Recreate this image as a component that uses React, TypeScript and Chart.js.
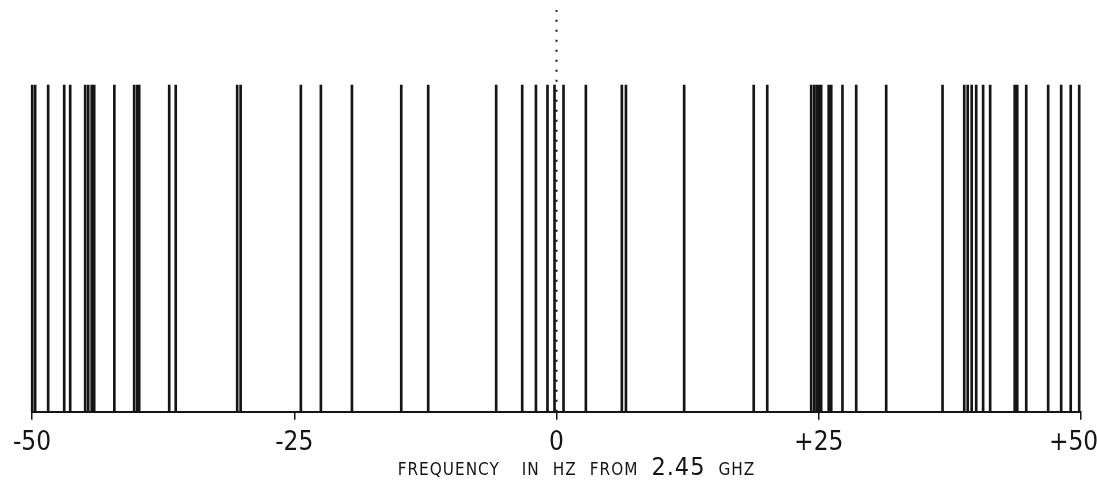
import React, { useEffect, useRef } from 'react';
import { Chart, registerables } from 'chart.js';

Chart.register(...registerables);

// Spectral line positions (Hz offset from 2.45 GHz)
const lineFrequencies = [
  -49.98, -49.7, -48.46, -46.93, -46.36, -44.93, -44.64, -44.31, -44.07, -42.15,
  -40.26, -39.97, -39.78, -36.92, -36.3, -30.44, -30.11, -24.37, -22.46, -19.5,
  -14.8, -12.23, -5.75, -3.27, -1.96, -0.86, -0.19, 0.67, 2.8, 6.23,
  6.62, 12.17, 18.8, 20.09, 24.28, 24.57, 24.8, 25.04, 25.23, 25.95,
  26.19, 27.26, 28.57, 31.43, 36.8, 38.87, 39.2, 39.58, 40.01, 40.67,
  41.34, 43.68, 43.92, 44.78, 46.87, 48.11, 49.02, 49.83,
];
// Relative amplitude of each line (all equal in the plot)
const lineAmplitudes = [
  1, 1, 1, 1, 1, 1, 1, 1, 1, 1,
  1, 1, 1, 1, 1, 1, 1, 1, 1, 1,
  1, 1, 1, 1, 1, 1, 1, 1, 1, 1,
  1, 1, 1, 1, 1, 1, 1, 1, 1, 1,
  1, 1, 1, 1, 1, 1, 1, 1, 1, 1,
  1, 1, 1, 1, 1, 1, 1, 1,
];
// Dotted centre marker at 0 Hz
const markerX = [0, 0];
const markerY = [0, 1.23];

const tickValues = [-50, -25, 0, 25, 50];
const tickLabels = ['-50', '-25', '0', '+25', '+50  '];
const titleWords = ['FREQUENCY', 'IN', 'HZ', 'FROM', '2.45', 'GHZ'];
const yMax = 1.23;

const FONT = "'DejaVu Sans Condensed', 'DejaVu Sans', sans-serif";
const INK = '#151515';

const titlePlugin = {
  id: 'freqTitle',
  afterDraw(chart: any) {
    const { ctx, chartArea } = chart;
    const xs = chart.scales.x;
    const baseline = chartArea.bottom + 63;
    ctx.save();
    ctx.fillStyle = INK;
    ctx.textBaseline = 'alphabetic';
    ctx.textAlign = 'left';
    try { (ctx as any).letterSpacing = '1px'; } catch (e) {}
    const parts = titleWords.map((w) => {
      const size = w === '2.45' ? 25 : 17;
      ctx.font = `${size}px ${FONT}`;
      return { w, size, width: ctx.measureText(w).width };
    });
    const gaps = parts.map((p, i) => (i === 1 ? 22 : 13));
    let total = 0;
    parts.forEach((p, i) => { total += p.width + (i < parts.length - 1 ? gaps[i + 1] : 0); });
    let x = xs.getPixelForValue(0) + 20 - total / 2;
    parts.forEach((p, i) => {
      ctx.font = `${p.size}px ${FONT}`;
      ctx.fillText(p.w, x, baseline);
      x += p.width + (i < parts.length - 1 ? gaps[i + 1] : 0);
    });
    ctx.restore();
  },
};

export default function App() {
  const ref = useRef<HTMLCanvasElement | null>(null);

  useEffect(() => {
    document.body.style.margin = '0';
    const canvas = ref.current;
    if (!canvas) return;
    const chart = new Chart(canvas, {
      type: 'bar',
      data: {
        datasets: [
          {
            type: 'bar',
            label: 'lines',
            data: lineFrequencies.map((f, i) => ({ x: f, y: lineAmplitudes[i] })),
            backgroundColor: INK,
            borderWidth: 0,
            barThickness: 2,
            clip: false as any,
          } as any,
          {
            type: 'line',
            label: 'centre',
            data: markerX.map((x, i) => ({ x, y: markerY[i] })),
            borderColor: INK,
            borderWidth: 2,
            borderDash: [2, 8],
            pointRadius: 0,
            fill: false,
            clip: false as any,
          } as any,
        ],
      },
      options: {
        responsive: false,
        animation: false,
        events: [],
        layout: { padding: { left: 32, right: 16, top: 10, bottom: 17 } },
        plugins: {
          legend: { display: false },
          tooltip: { enabled: false },
          title: { display: false },
        },
        scales: {
          x: {
            type: 'linear',
            min: -50,
            max: 50,
            offset: false,
            afterFit: (s: any) => {
              s.paddingLeft = 0;
              s.paddingRight = 0;
            },
            ticks: {
              stepSize: 25,
              autoSkip: false,
              maxRotation: 0,
              padding: 8,
              color: INK,
              font: { family: FONT, size: 26 },
              callback: (v: any) => {
                const i = tickValues.indexOf(Number(v));
                return i >= 0 ? tickLabels[i] : '';
              },
            },
            grid: {
              display: true,
              offset: false,
              drawOnChartArea: false,
              drawTicks: true,
              tickLength: 8,
              color: INK,
              lineWidth: 1.5,
            },
            border: { display: true, color: INK, width: 2 },
          },
          y: {
            display: false,
            min: 0,
            max: yMax,
          },
        },
      } as any,
      plugins: [titlePlugin],
    });
    return () => chart.destroy();
  }, []);

  return (
    <div style={{ width: 1097, height: 484, background: '#fff' }}>
      <canvas ref={ref} width={1097} height={484} style={{ display: 'block' }} />
    </div>
  );
}
